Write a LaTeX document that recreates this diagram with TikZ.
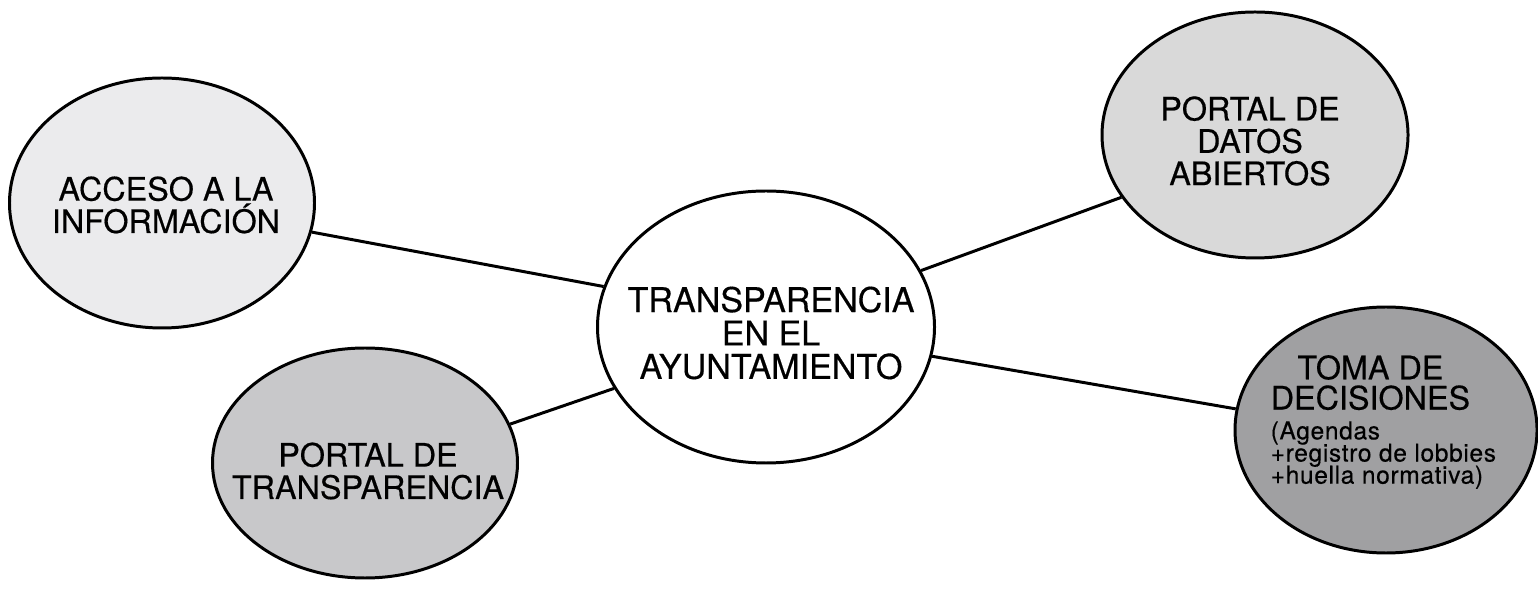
\documentclass[tikz,border=0pt]{standalone}
\usepackage{fontspec}
\setmainfont{TeX Gyre Heros}[BoldFont=TeX Gyre Heros,BoldFeatures={FakeBold=0.4}]
\usepackage{calc}
\usetikzlibrary{shapes.geometric}

\definecolor{grisclaro}{HTML}{EBEBED}
\definecolor{grismedio}{HTML}{C8C8CA}
\definecolor{grisdatos}{HTML}{D9D9D9}
\definecolor{grisoscuro}{HTML}{A0A0A2}

\newcommand{\letragrande}{\normalfont\fontsize{9.2}{9.2}\selectfont\bfseries}
\newcommand{\letracentro}{\normalfont\fontsize{9.7}{9.5}\selectfont\bfseries}
\newcommand{\letrachica}{\normalfont\fontsize{7}{6.3}\selectfont\bfseries\addfontfeature{LetterSpace=2.5}}

\begin{document}
\begin{tikzpicture}[x=0.1mm,y=-0.1mm,
		globo/.style={draw,ellipse,line width=0.85pt,inner sep=0pt},
		texto/.style={inner sep=0pt,align=center,font=\letragrande},
		union/.style={line width=0.85pt}]
				\useasboundingbox (0,0) rectangle (1538,595);
				% globos
				\node[globo,fill=white,minimum width=33.7mm,minimum height=27.2mm] (centro) at (766, 327) {};
				\node[globo,fill=grisclaro,minimum width=30.5mm,minimum height=25mm] (acceso) at (162, 203) {};
				\node[globo,fill=grismedio,minimum width=30.5mm,minimum height=23mm] (portal) at (365, 463) {};
				\node[globo,fill=grisdatos,minimum width=30.6mm,minimum height=24.6mm] (datos) at (1255, 135) {};
				\node[globo,fill=grisoscuro,minimum width=30.2mm,minimum height=24.6mm] (toma) at (1386, 430) {};
				% textos
				\node[texto,font=\letracentro] (centro-t) at (771, 333) {TRANSPARENCIA\\EN EL\\AYUNTAMIENTO};
				\node[texto] (acceso-t) at (166, 205) {ACCESO A LA\\INFORMACIÓN};
				\node[texto] (portal-t) at (368, 471) {PORTAL DE\\TRANSPARENCIA};
				\node[texto] (datos-t) at (1250, 141) {PORTAL DE\\DATOS\\ABIERTOS};
				\node[texto,align=left,anchor=west,font=\letrachica,execute at begin node={\lineskiplimit=-20pt}] (toma-t) at (1270, 422)
					{\letragrande\makebox[\widthof{DECISIONES}]{TOMA DE}\\[2.3pt]\letragrande DECISIONES\\[2.2pt](Agendas\\+registro de lobbies\\+huella normativa)};
				% uniones
				\draw[union] (acceso.-11) to (centro.166);
				\draw[union] (portal.15) to (centro.202);
				\draw[union] (datos.205) to (centro.20);
				\draw[union] (toma.172) to (centro.-10);
			\end{tikzpicture}
\end{document}
